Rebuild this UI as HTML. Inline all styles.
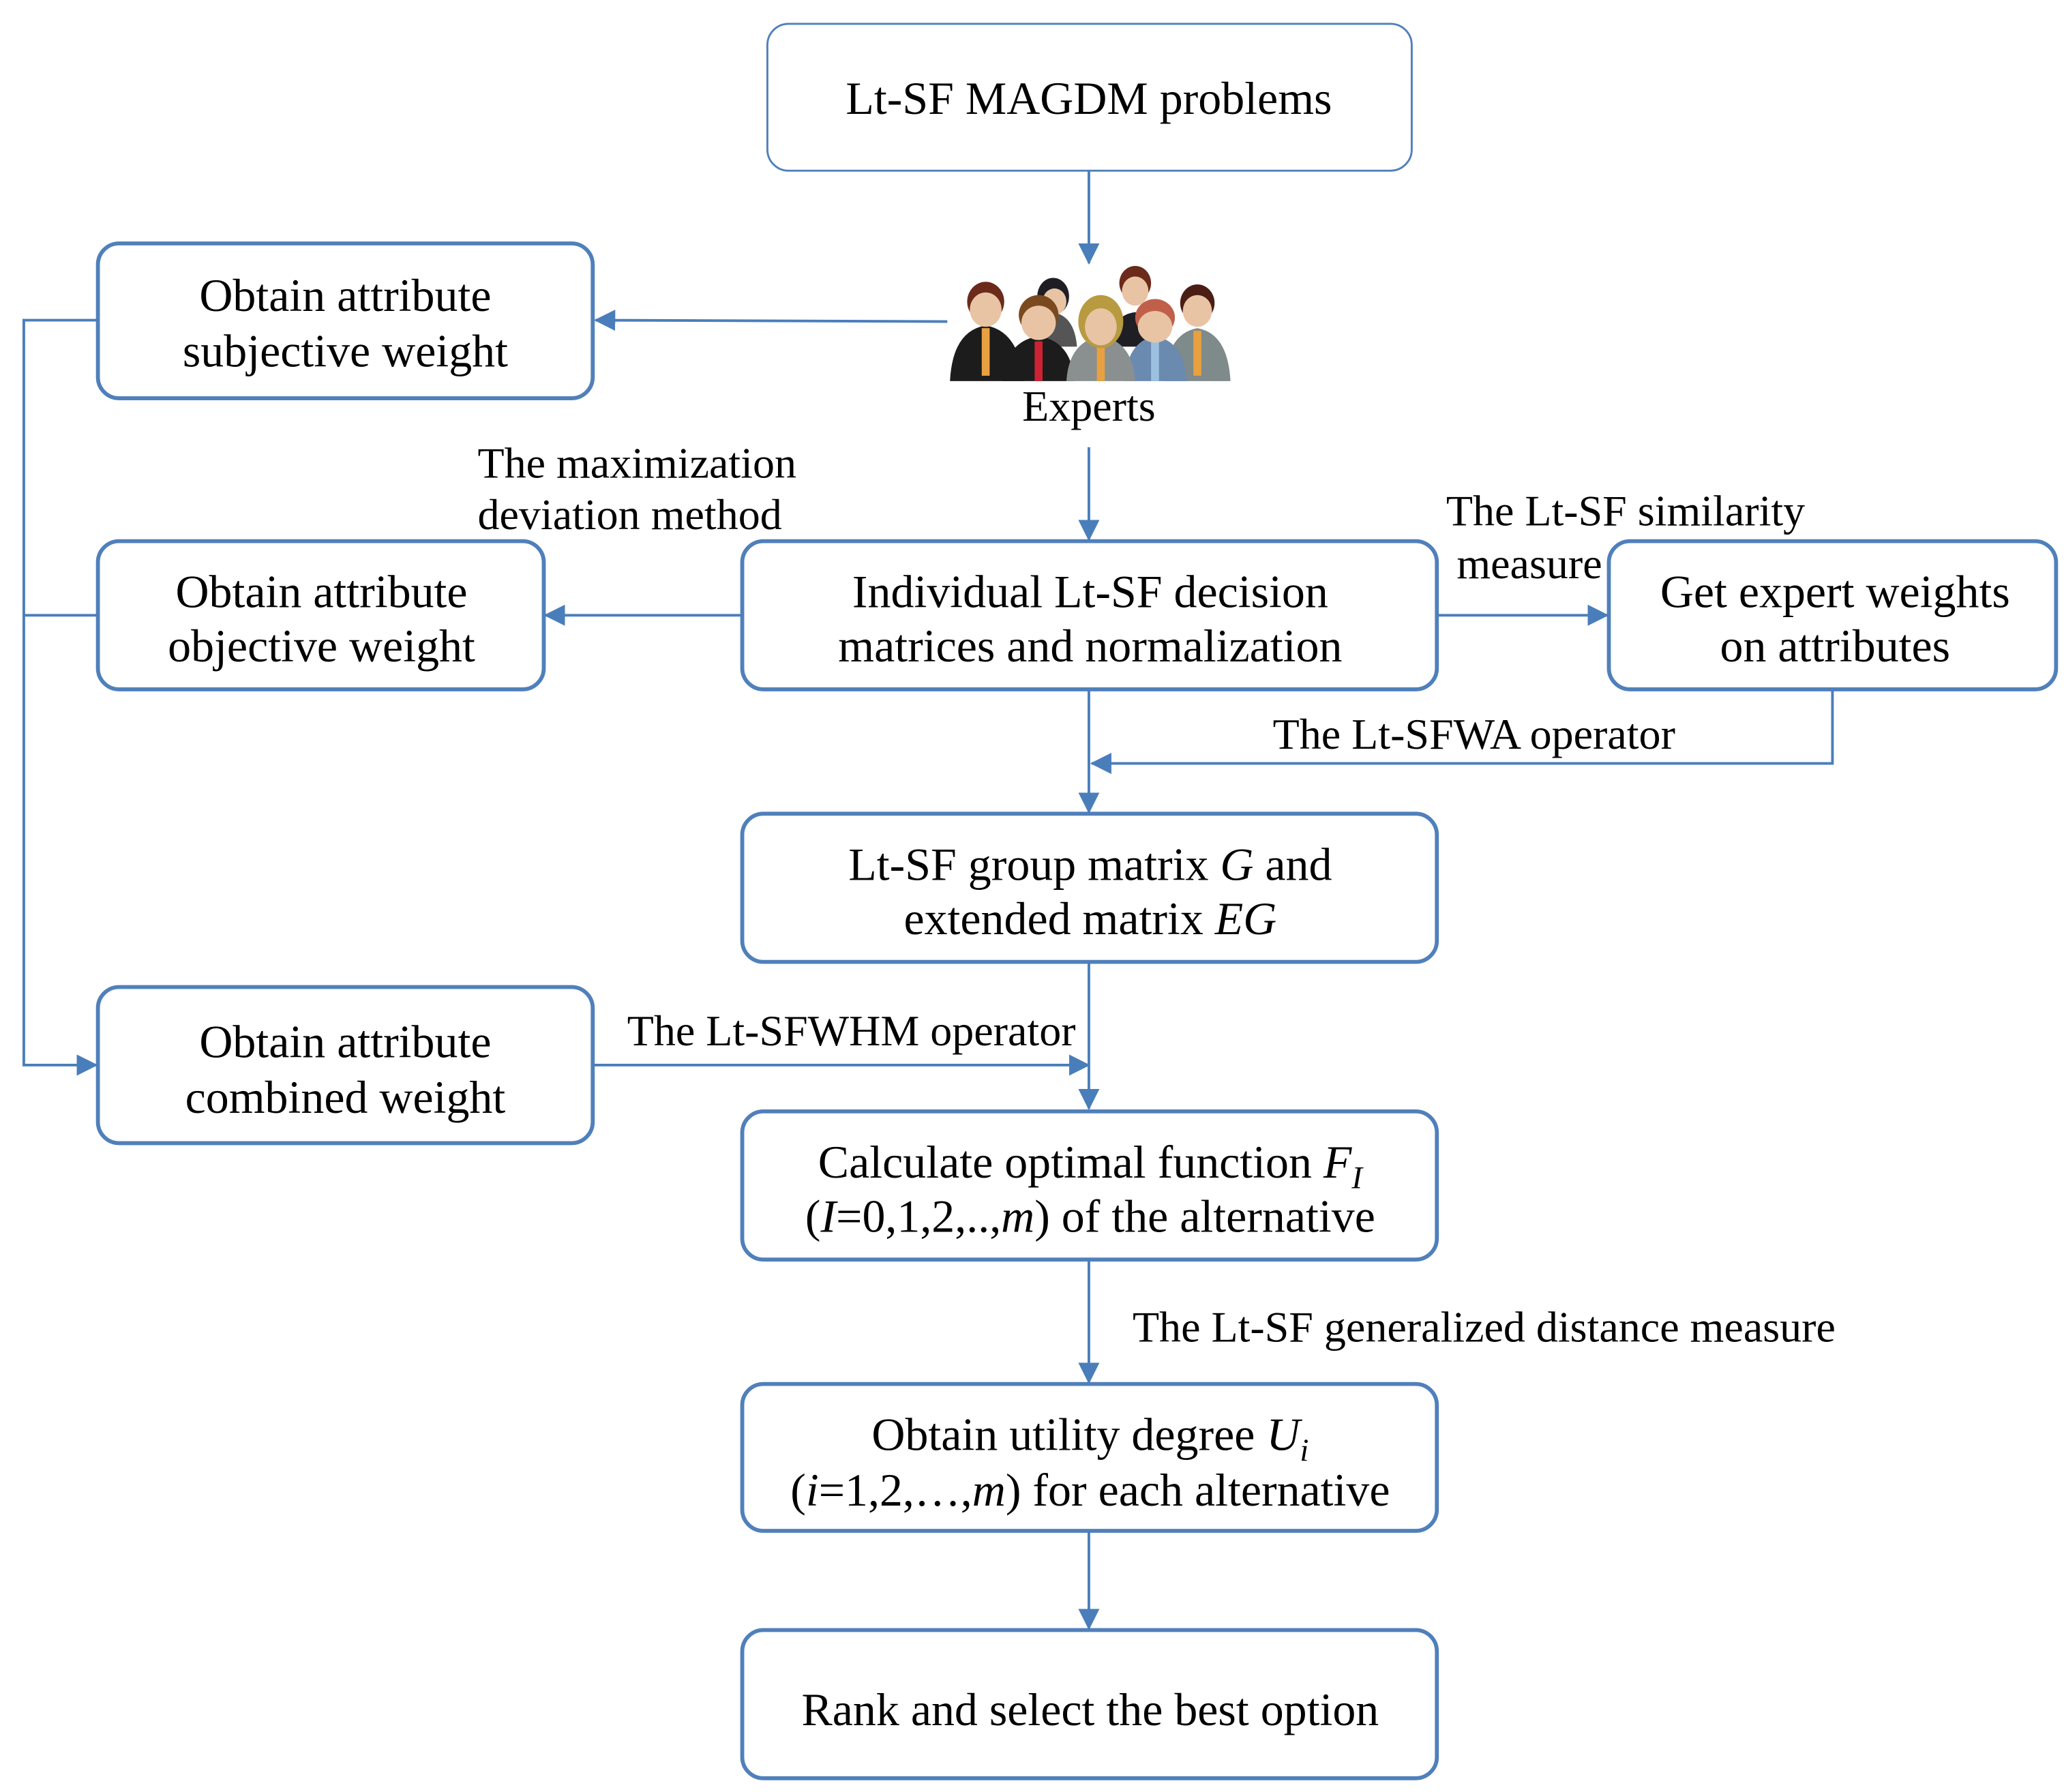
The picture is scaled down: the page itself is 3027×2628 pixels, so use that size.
<!DOCTYPE html>
<html><head><meta charset="utf-8"><style>
html,body{margin:0;padding:0;background:#fff;}
svg{display:block;}
text{font-family:"Liberation Serif",serif;font-size:35px;fill:#000;}
text.l{font-size:33px;}
</style></head><body>
<svg width="3027" height="2628" viewBox="0 0 1560 1354.4" preserveAspectRatio="none" xmlns="http://www.w3.org/2000/svg">
<defs>
<marker id="b" markerWidth="16" markerHeight="16" refX="15" refY="8" orient="auto" markerUnits="userSpaceOnUse" viewBox="0 0 16 16">
<path d="M0,0 L16,8 L0,16 z" fill="#4a7ebb"/></marker>
</defs>
<g fill="none" stroke="#5080bb" stroke-width="3">
<rect x="580" y="18" width="487" height="111" rx="16" stroke-width="1.5"/>
<rect x="74" y="184" width="374" height="117" rx="16"/>
<rect x="74" y="409" width="337" height="112" rx="16"/>
<rect x="561" y="409" width="525" height="112" rx="16"/>
<rect x="1216" y="409" width="338" height="112" rx="16"/>
<rect x="561" y="615" width="525" height="112" rx="16"/>
<rect x="74" y="746" width="374" height="118" rx="16"/>
<rect x="561" y="840" width="525" height="112" rx="16"/>
<rect x="561" y="1046" width="525" height="111" rx="16"/>
<rect x="561" y="1232" width="525" height="112" rx="16"/>
</g>
<g fill="none" stroke="#4a7ebb" stroke-width="2">
<line x1="823" y1="129" x2="823" y2="199" marker-end="url(#b)"/>
<line x1="716" y1="243" x2="450" y2="242" marker-end="url(#b)"/>
<line x1="823" y1="338" x2="823" y2="408" marker-end="url(#b)"/>
<line x1="561" y1="465" x2="412" y2="465" marker-end="url(#b)"/>
<line x1="1086" y1="465" x2="1215" y2="465" marker-end="url(#b)"/>
<polyline points="1385,521 1385,577 825,577" marker-end="url(#b)"/>
<line x1="823" y1="521" x2="823" y2="614" marker-end="url(#b)"/>
<line x1="823" y1="727" x2="823" y2="838" marker-end="url(#b)"/>
<line x1="448" y1="805" x2="823" y2="805" marker-end="url(#b)"/>
<polyline points="74,242 18,242 18,805 73,805" marker-end="url(#b)"/>
<line x1="18" y1="465" x2="74" y2="465"/>
<line x1="823" y1="952" x2="823" y2="1045" marker-end="url(#b)"/>
<line x1="823" y1="1157" x2="823" y2="1231" marker-end="url(#b)"/>
</g>
<g>
<path d="M778,262 Q780,238 795,236 Q812,238 814,262 Z" fill="#555"/>
<ellipse cx="796" cy="224" rx="12" ry="14" fill="#1e1e24"/>
<ellipse cx="797" cy="228" rx="9" ry="10" fill="#e8c4a4"/>
<path d="M838,262 Q840,238 858,236 Q876,238 878,262 Z" fill="#1e1e24"/>
<ellipse cx="858" cy="214" rx="12" ry="13" fill="#6b2a1a"/>
<ellipse cx="858" cy="220" rx="10" ry="11" fill="#e8c4a4"/>
<path d="M718,288 Q720,250 745,246 Q770,250 774,288 Z" fill="#1c1c1c"/>
<rect x="742" y="248" width="6" height="36" fill="#e8a040"/>
<ellipse cx="745" cy="228" rx="14" ry="15" fill="#6b2a1a"/>
<ellipse cx="745" cy="234" rx="12" ry="13" fill="#e8c4a4"/>
<path d="M880,288 Q882,252 905,248 Q928,252 930,288 Z" fill="#7f8a8a"/>
<rect x="902" y="250" width="6" height="34" fill="#e8a040"/>
<ellipse cx="905" cy="229" rx="13" ry="14" fill="#4a1e14"/>
<ellipse cx="905" cy="235" rx="11" ry="12" fill="#e8c4a4"/>
<path d="M758,288 Q760,258 785,254 Q810,258 812,288 Z" fill="#1c1c1c"/>
<rect x="782" y="258" width="6" height="30" fill="#cc2233"/>
<ellipse cx="785" cy="238" rx="15" ry="15" fill="#7a4a1e"/>
<ellipse cx="785" cy="244" rx="13" ry="13" fill="#e8c4a4"/>
<path d="M850,288 Q852,258 873,254 Q895,258 897,288 Z" fill="#6a8ab0"/>
<rect x="870" y="258" width="6" height="30" fill="#9cc0e0"/>
<ellipse cx="873" cy="240" rx="15" ry="14" fill="#c0604a"/>
<ellipse cx="873" cy="247" rx="13" ry="12" fill="#e8c4a4"/>
<path d="M806,288 Q808,258 832,254 Q856,258 858,288 Z" fill="#8a9090"/>
<rect x="829" y="258" width="6" height="30" fill="#e8a040"/>
<ellipse cx="832" cy="243" rx="17" ry="20" fill="#b89a40"/>
<ellipse cx="832" cy="247" rx="12" ry="14" fill="#e8c4a4"/>
</g>
<text x="823" y="86" text-anchor="middle">Lt-SF MAGDM problems</text>
<text class="l" x="823" y="318" text-anchor="middle">Experts</text>
<text x="261" y="235" text-anchor="middle">Obtain attribute</text>
<text x="261" y="277" text-anchor="middle">subjective weight</text>
<text class="l" x="361" y="361">The maximization</text>
<text class="l" x="361" y="400">deviation method</text>
<text x="243" y="459" text-anchor="middle">Obtain attribute</text>
<text x="243" y="500" text-anchor="middle">objective weight</text>
<text x="824" y="459" text-anchor="middle">Individual Lt-SF decision</text>
<text x="824" y="500" text-anchor="middle">matrices and normalization</text>
<text class="l" x="1093" y="397">The Lt-SF similarity</text>
<text class="l" x="1101" y="437">measure</text>
<text x="1387" y="459" text-anchor="middle">Get expert weights</text>
<text x="1387" y="500" text-anchor="middle">on attributes</text>
<text class="l" x="962" y="566">The Lt-SFWA operator</text>
<text x="824" y="665" text-anchor="middle">Lt-SF group matrix <tspan font-style="italic">G</tspan> and</text>
<text x="824" y="706" text-anchor="middle">extended matrix <tspan font-style="italic">EG</tspan></text>
<text class="l" x="474" y="790">The Lt-SFWHM operator</text>
<text x="261" y="799" text-anchor="middle">Obtain attribute</text>
<text x="261" y="841" text-anchor="middle">combined weight</text>
<text x="824" y="890" text-anchor="middle">Calculate optimal function <tspan font-style="italic">F</tspan><tspan font-style="italic" font-size="24" dy="8">I</tspan></text>
<text x="824" y="931" text-anchor="middle">(<tspan font-style="italic">I</tspan>=0,1,2,..,<tspan font-style="italic">m</tspan>) of the alternative</text>
<text class="l" x="856" y="1014">The Lt-SF generalized distance measure</text>
<text x="824" y="1096" text-anchor="middle">Obtain utility degree <tspan font-style="italic">U</tspan><tspan font-style="italic" font-size="24" dy="8">i</tspan></text>
<text x="824" y="1138" text-anchor="middle">(<tspan font-style="italic">i</tspan>=1,2,…,<tspan font-style="italic">m</tspan>) for each alternative</text>
<text x="824" y="1304" text-anchor="middle">Rank and select the best option</text>
</svg>
</body></html>
